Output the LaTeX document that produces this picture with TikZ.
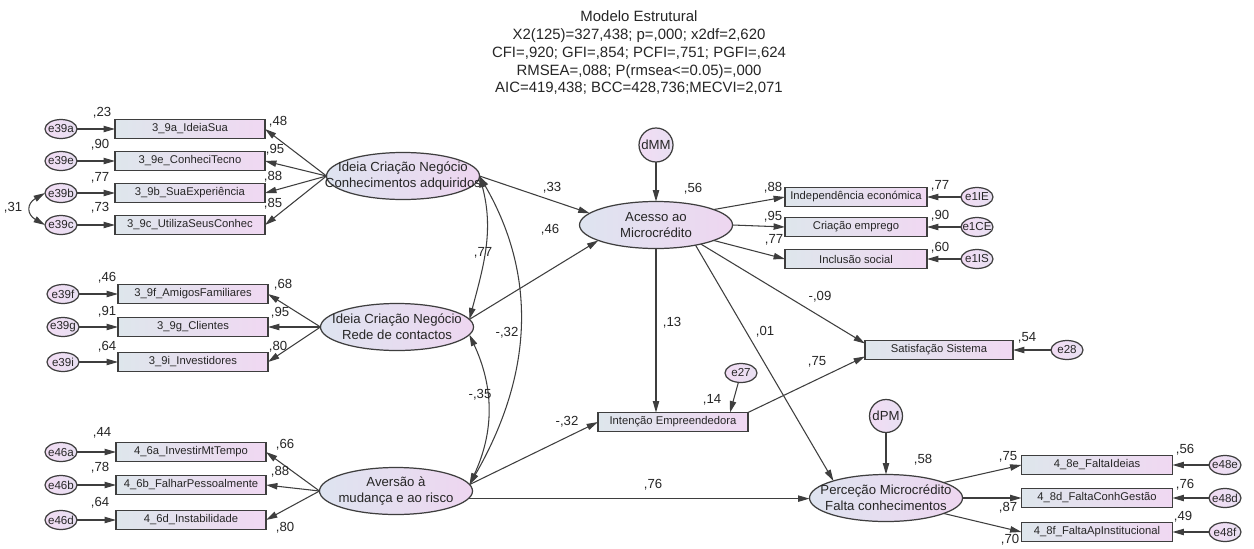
\documentclass[tikz,border=0pt]{standalone}
\usepackage{fontspec}
\setmainfont{Liberation Sans}
\usetikzlibrary{shapes.geometric,arrows.meta,calc}

\definecolor{linec}{RGB}{62,62,62}
\definecolor{boxl}{RGB}{222,230,236}
\definecolor{boxr}{RGB}{240,216,242}
\definecolor{latl}{RGB}{222,228,240}
\definecolor{latr}{RGB}{238,214,240}
\definecolor{errl}{RGB}{242,220,244}
\definecolor{errr}{RGB}{232,224,242}

% error term: ellipse plus its caption
\newcommand{\errn}[2]{\node[err] (#1) at (#2) {}; \node[errtxt] (#1-t) at (#1) {#1};}
% latent variable: ellipse plus two-line caption
\newcommand{\latn}[3]{\node[lat] (#1) at (#2) {}; \node[lattxt] (#1-t) at (#1) {#3};}
% path coefficient
\newcommand{\val}[3]{\node[val] (#1) at (#2) {#3};}

\begin{document}
\begin{tikzpicture}[x=0.02cm,y=-0.02cm,
  every node/.style={inner sep=0pt,outer sep=0pt},
  tip/.tip={Triangle[length=6.5pt,width=3.6pt]},
  conn/.style={draw=linec,line width=0.6pt,-tip},
  dconn/.style={draw=linec,line width=0.6pt,tip-tip},
  obs/.style={rectangle,draw=linec,line width=0.8pt,left color=boxl,right color=boxr,
    minimum width=150*0.02cm,minimum height=19*0.02cm,font=\fontsize{6.4}{7}\selectfont,text=black!85},
  lat/.style={ellipse,draw=linec,line width=0.7pt,left color=latl,right color=latr,
    minimum width=153*0.02cm,minimum height=47*0.02cm},
  lattxt/.style={align=center,font=\fontsize{7.5}{9}\selectfont,text=black!85},
  err/.style={ellipse,draw=linec,line width=0.7pt,left color=errl,right color=errr,
    minimum width=32*0.02cm,minimum height=19*0.02cm},
  errtxt/.style={font=\fontsize{6.6}{7}\selectfont,text=black!85},
  dist/.style={circle,draw=linec,line width=0.7pt,left color=errl,right color=errr,
    minimum size=34*0.02cm,font=\fontsize{7.5}{8}\selectfont,text=black!85},
  val/.style={font=\fontsize{7.5}{9}\selectfont,text=black!85}
]
\useasboundingbox[fill=white] (0,0) rectangle (1254,548);

% fit statistics
\node[align=center,font=\fontsize{8.5}{10.1}\selectfont,text=black!85] (title) at (639,53)
  {Modelo Estrutural\\X2(125)=327,438; p=,000; x2df=2,620\\CFI=,920; GFI=,854; PCFI=,751; PGFI=,624\\RMSEA=,088; P(rmsea<=0.05)=,000\\AIC=419,438; BCC=428,736;MECVI=2,071};

% ---- Ideia Criacao Negocio: conhecimentos adquiridos
\latn{conh}{403,176}{Ideia Criação Negócio\\Conhecimentos adquiridos}
\node[obs] (b39a) at (190,129) {3\_9a\_IdeiaSua};
\node[obs] (b39e) at (190,161) {3\_9e\_ConheciTecno};
\node[obs] (b39b) at (190,193) {3\_9b\_SuaExperiência};
\node[obs] (b39c) at (190,225) {3\_9c\_UtilizaSeusConhec};
\errn{e39a}{61,129}
\errn{e39e}{61,161}
\errn{e39b}{61,193}
\errn{e39c}{61,225}
\foreach \n in {a,e,b,c}{\draw[conn] (e39\n) -- (b39\n); \draw[conn] (conh.west) -- (b39\n.east);}
\draw[dconn] (e39b.west) to[out=210,in=150,looseness=1.7] (e39c.west);

% ---- Ideia Criacao Negocio: rede de contactos
\latn{rede}{397,327}{Ideia Criação Negócio\\Rede de contactos}
\node[obs] (b39f) at (193,294) {3\_9f\_AmigosFamiliares};
\node[obs] (b39g) at (193,327) {3\_9g\_Clientes};
\node[obs] (b39i) at (193,362) {3\_9i\_Investidores};
\errn{e39f}{63,294}
\errn{e39g}{63,327}
\errn{e39i}{63,362}
\foreach \n in {f,g,i}{\draw[conn] (e39\n) -- (b39\n); \draw[conn] (rede.west) -- (b39\n.east);}

% ---- Aversao a mudanca e ao risco
\latn{aver}{396,491}{Aversão à\\mudança e ao risco}
\node[obs] (b46a) at (191,452) {4\_6a\_InvestirMtTempo};
\node[obs] (b46b) at (191,485) {4\_6b\_FalharPessoalmente};
\node[obs] (b46d) at (191,520) {4\_6d\_Instabilidade};
\errn{e46a}{61,452}
\errn{e46b}{61,485}
\errn{e46d}{61,520}
\foreach \n in {a,b,d}{\draw[conn] (e46\n) -- (b46\n); \draw[conn] (aver.west) -- (b46\n.east);}

% ---- Acesso ao microcredito
\node[dist] (dMM) at (656,145) {dMM};
\latn{acesso}{656,225}{Acesso ao\\Microcrédito}
\node[obs,minimum width=142*0.02cm] (ind) at (856,197) {Independência económica};
\node[obs,minimum width=142*0.02cm] (crie) at (856,227) {Criação emprego};
\node[obs,minimum width=142*0.02cm] (incl) at (856,259) {Inclusão social};
\errn{e1IE}{977,197}
\errn{e1CE}{977,227}
\errn{e1IS}{977,259}
\draw[conn] (dMM) -- (acesso);
\draw[conn] (acesso.15) -- (ind.west);
\draw[conn] (acesso.east) -- (crie.west);
\draw[conn] (acesso.-15) -- (incl.west);
\draw[conn] (e1IE) -- (ind);
\draw[conn] (e1CE) -- (crie);
\draw[conn] (e1IS) -- (incl);

% ---- Satisfacao e intencao
\node[obs,minimum width=148*0.02cm] (satisf) at (939,350) {Satisfação Sistema};
\errn{e28}{1067,350}
\draw[conn] (e28) -- (satisf);
\node[obs] (intencao) at (673,422) {Intenção Empreendedora};
\errn{e27}{741,373}
\draw[conn] (e27) -- ($(intencao.north east)+(-18,0)$);

% ---- Percecao microcredito
\node[dist,minimum size=33*0.02cm] (dPM) at (886,416) {dPM};
\latn{perc}{886,498}{Perceção Microcrédito\\Falta conhecimentos}
\node[obs,minimum width=151*0.02cm] (b48e) at (1097,465) {4\_8e\_FaltaIdeias};
\node[obs,minimum width=151*0.02cm] (b48d) at (1097,498) {4\_8d\_FaltaConhGestão};
\node[obs,minimum width=151*0.02cm] (b48f) at (1097,532) {4\_8f\_FaltaApInstitucional};
\errn{e48e}{1225,465}
\errn{e48d}{1225,498}
\errn{e48f}{1225,532}
\draw[conn] (dPM) -- (perc);
\draw[conn] (perc.15) -- (b48e.west);
\draw[conn] (perc.east) -- (b48d.west);
\draw[conn] (perc.-15) -- (b48f.west);
\foreach \n in {e,d,f}{\draw[conn] (e48\n) -- (b48\n);}

% ---- structural paths
\draw[conn] (conh.east) -- (acesso.170);
\draw[conn] (rede.6) -- (acesso.195);
\draw[conn] (aver.5) -- (intencao.west);
\draw[conn] (aver.-6) -- (aver.-6 -| perc.west);
\draw[conn] (acesso.south) -- (acesso.south |- intencao.north);
\draw[conn] (acesso.-27) -- (perc.162);
\draw[conn] (acesso.-23) -- (satisf.175);
\draw[conn] (intencao.north east) -- (satisf.185);

% ---- correlations between exogenous factors
\draw[dconn] (conh.east) to[out=-75,in=75] (rede.6);
\draw[dconn] (conh.east) to[out=-60,in=60] (aver.5);
\draw[dconn] (rede.-6) to[out=-65,in=65] (aver.5);

% ---- coefficients
\val{v31}{13,208}{,31}
\val{v23}{102,113}{,23}
\val{v90}{100,145}{,90}
\val{v77a}{100,178}{,77}
\val{v73}{100,208}{,73}
\val{v48}{278,122}{,48}
\val{v95a}{275,150}{,95}
\val{v88a}{273,177}{,88}
\val{v85}{273,204}{,85}
\val{v46}{107,278}{,46}
\val{v91}{107,312}{,91}
\val{v64a}{107,347}{,64}
\val{v68}{283,285}{,68}
\val{v95b}{280,313}{,95}
\val{v80a}{278,347}{,80}
\val{v44}{102,433}{,44}
\val{v78}{100,468}{,78}
\val{v64b}{100,503}{,64}
\val{v66}{285,445}{,66}
\val{v88b}{280,472}{,88}
\val{v80b}{285,528}{,80}
\val{v33}{552,188}{,33}
\val{v46b}{550,230}{,46}
\val{v77b}{483,253}{,77}
\val{v32a}{507,333}{-,32}
\val{v35}{480,395}{-,35}
\val{v32b}{567,422}{-,32}
\val{v56a}{693,189}{,56}
\val{v13}{672,323}{,13}
\val{v01}{765,332}{,01}
\val{v09}{820,297}{-,09}
\val{v75a}{817,362}{,75}
\val{v14}{712,400}{,14}
\val{v76a}{653,485}{,76}
\val{v88c}{773,188}{,88}
\val{v95c}{773,217}{,95}
\val{v77c}{774,240}{,77}
\val{v77d}{940,186}{,77}
\val{v90b}{940,216}{,90}
\val{v60}{940,248}{,60}
\val{v54}{1027,338}{,54}
\val{v58}{923,460}{,58}
\val{v75b}{1008,457}{,75}
\val{v87}{1008,508}{,87}
\val{v70}{1010,540}{,70}
\val{v56b}{1185,450}{,56}
\val{v76b}{1185,485}{,76}
\val{v49}{1183,517}{,49}
\end{tikzpicture}
\end{document}
